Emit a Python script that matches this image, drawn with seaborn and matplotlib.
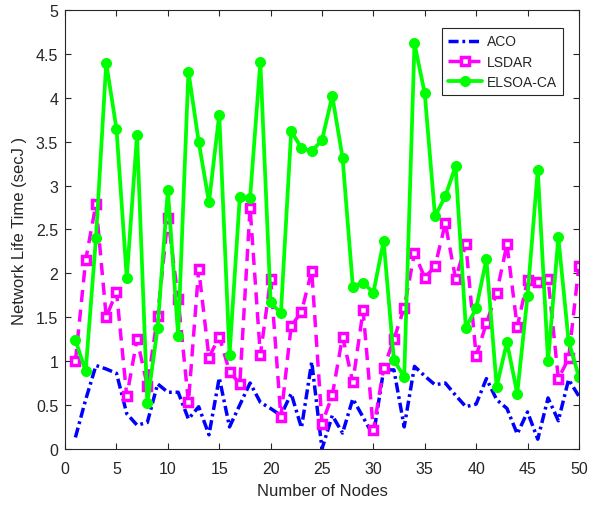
import numpy as np
import pandas as pd
import matplotlib
matplotlib.use("Agg")
import matplotlib.pyplot as plt
import seaborn as sns

nodes = list(range(1, 51))

aco = [0.13, 0.56, 0.95, 0.91, 0.86, 0.40, 0.27, 0.30, 0.74, 0.645,
       0.645, 0.34, 0.48, 0.16, 0.81, 0.25, 0.50, 0.75, 0.53, 0.46,
       0.38, 0.63, 0.24, 0.99, 0.00, 0.38, 0.18, 0.57, 0.36, 0.15,
       0.90, 0.90, 0.25, 0.94, 0.83, 0.73, 0.75, 0.61, 0.48, 0.51,
       0.80, 0.56, 0.46, 0.17, 0.42, 0.11, 0.58, 0.32, 0.79, 0.60]

lsdar = [1.00, 2.15, 2.79, 1.50, 1.79, 0.60, 1.25, 0.72, 1.51, 2.63,
         1.71, 0.53, 2.05, 1.04, 1.28, 0.88, 0.74, 2.75, 1.07, 1.94,
         0.36, 1.40, 1.56, 2.03, 0.285, 0.61, 1.28, 0.76, 1.58, 0.21,
         0.92, 1.25, 1.61, 2.23, 1.95, 2.08, 2.57, 1.94, 2.33, 1.06,
         1.43, 1.78, 2.33, 1.39, 1.92, 1.90, 1.94, 0.80, 1.03, 2.08]

elsoa_ca = [1.24, 0.885, 2.40, 4.40, 3.645, 1.95, 3.58, 0.52, 1.38, 2.95,
            1.29, 4.30, 3.50, 2.81, 3.81, 1.07, 2.87, 2.86, 4.41, 1.67,
            1.545, 3.62, 3.43, 3.39, 3.52, 4.02, 3.32, 1.85, 1.895, 1.78,
            2.37, 1.01, 0.82, 4.62, 4.05, 2.65, 2.88, 3.22, 1.38, 1.60,
            2.16, 0.71, 1.215, 0.63, 1.74, 3.18, 1.00, 2.41, 1.23, 0.82]

x_ticks = list(range(0, 51, 5))
y_ticks = [0, 0.5, 1, 1.5, 2, 2.5, 3, 3.5, 4, 4.5, 5]
y_tick_labels = ["0", "0.5", "1", "1.5", "2", "2.5", "3", "3.5", "4", "4.5", "5"]

sns.set_style("ticks")
plt.rcParams["font.family"] = ["Liberation Sans", "DejaVu Sans"]
plt.rcParams["xtick.direction"] = "in"
plt.rcParams["ytick.direction"] = "in"

df = pd.DataFrame({"nodes": nodes, "ACO": aco, "LSDAR": lsdar, "ELSOA-CA": elsoa_ca})

fig = plt.figure(figsize=(6.03, 5.06), dpi=100)
ax = fig.add_axes([0.108, 0.111, 0.852, 0.867])

sns.lineplot(data=df, x="nodes", y="ACO", ax=ax, color=(0, 0, 1),
             linestyle=(0, (2.9, 1.1, 0.8, 1.1)), linewidth=2.5, label="ACO")
sns.lineplot(data=df, x="nodes", y="LSDAR", ax=ax, color=(1, 0, 1),
             linestyle=(0, (3.5, 2.2)), linewidth=2.5, marker="s", markersize=5.5,
             markerfacecolor="white", markeredgecolor=(1, 0, 1),
             markeredgewidth=2.5, label="LSDAR")
sns.lineplot(data=df, x="nodes", y="ELSOA-CA", ax=ax, color=(0, 1, 0),
             linestyle="-", linewidth=2.7, marker="o", markersize=7.2,
             markeredgecolor=(0, 1, 0), markerfacecolor=(0, 1, 0),
             label="ELSOA-CA")

ax.set_xlim(0, 50)
ax.set_ylim(0, 5)
ax.set_xticks(x_ticks)
ax.set_yticks(y_ticks)
ax.set_yticklabels(y_tick_labels)
ax.tick_params(axis="both", which="both", direction="in", top=True, right=True,
               labelsize=11.5, colors="#262626", length=4, width=0.8)
ax.tick_params(axis="x", pad=9)
ax.tick_params(axis="y", pad=5)
for side in ["top", "right", "bottom", "left"]:
    ax.spines[side].set_visible(True)
    ax.spines[side].set_color("#262626")
    ax.spines[side].set_linewidth(0.8)

ax.set_xlabel("Number of Nodes", fontsize=12, color="#262626", labelpad=5)
ax.set_ylabel("Network Life Time (secJ )", fontsize=12, color="#262626", labelpad=6)

leg = ax.legend(loc="upper right", bbox_to_anchor=(0.969, 0.959), borderaxespad=0,
                fontsize=10, fancybox=False, framealpha=1, edgecolor="#262626",
                handlelength=2.45, handletextpad=0.3, borderpad=0.45,
                labelspacing=0.45)
leg.get_frame().set_linewidth(0.8)

fig.savefig("out.png", dpi=100)
